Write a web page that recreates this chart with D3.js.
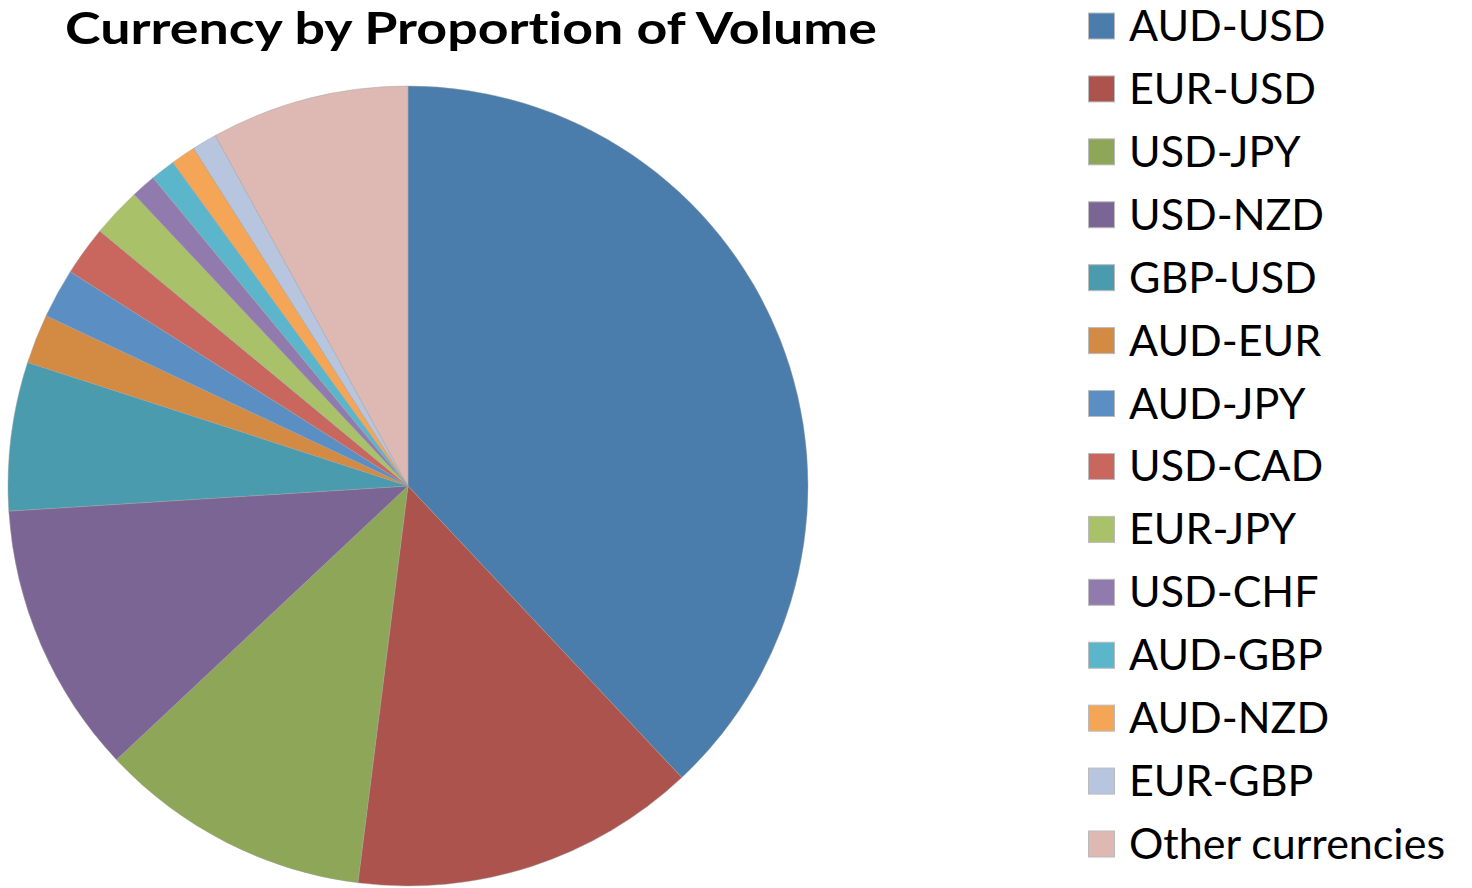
<html lang="en">
<head>
    <meta charset="UTF-8"/>
    <title>Currency by Proportion of Volume</title>
    <script src="https://d3js.org/d3.v7.min.js"></script>
    <style>
        body { margin: 0; background: #fff; }
        text { font-family: Lato, "Open Sans", sans-serif; font-variant-ligatures: none; }
    </style>
</head>
<body>
    <script>
        // pairs in the order excel draws them (clockwise from 12 o'clock)
        var pairs = ["AUD-USD","EUR-USD","USD-JPY","USD-NZD","GBP-USD","AUD-EUR","AUD-JPY",
                     "USD-CAD","EUR-JPY","USD-CHF","AUD-GBP","AUD-NZD","EUR-GBP","Other currencies"];
        var share = [38,14,11,11,6,2,2,2,2,1,1,1,1,8];
        var colours = ["#4a7dab","#ab534c","#8ea657","#7b6595","#4a9bae","#d38a43","#5b8fc4",
                       "#c9665e","#a9c269","#917bae","#5bb6cc","#f5a556","#b7c5df","#deb8b3"];

        var w = 1472;
        var h = 888;
        var cx = 408, cy = 486, r = 400;

        var svg = d3.select("body")
                    .append("svg")
                    .attr("width", w)
                    .attr("height", h);

        var data = pairs.map(function(p, i){ return {name: p, value: share[i]}; });

        var pie = d3.pie()
                    .sort(null)
                    .value(function(d){ return d.value; });

        var arc = d3.arc()
                    .innerRadius(0)
                    .outerRadius(r);

        var colour = d3.scaleOrdinal()
                        .domain(pairs)
                        .range(colours);

        svg.append("g")
            .attr("transform", "translate(" + cx + "," + cy + ")")
            .selectAll("path")
            .data(pie(data))
            .enter()
            .append("path")
            .attr("d", arc)
            .attr("fill", function(d){ return colour(d.data.name); })
            .attr("stroke", "rgba(160,160,160,0.45)")
            .attr("stroke-width", 1);

        // title
        svg.append("text")
            .attr("x", 65)
            .attr("y", 44)
            .attr("font-size", 44)
            .attr("font-weight", "bold")
            .attr("textLength", 812)
            .attr("lengthAdjust", "spacingAndGlyphs")
            .text("Currency by Proportion of Volume");

        // legend
        var legY = d3.scaleLinear()
                        .domain([0, pairs.length - 1])
                        .range([26, 844]);

        var leg = svg.selectAll(".leg")
            .data(pairs)
            .enter()
            .append("g")
            .attr("class", "leg")
            .attr("transform", function(d, i){ return "translate(1088," + legY(i) + ")"; });

        leg.append("rect")
            .attr("x", 0.5)
            .attr("y", -13)
            .attr("width", 26)
            .attr("height", 26)
            .attr("fill", function(d){ return colour(d); })
            .attr("stroke", "#bbb")
            .attr("stroke-width", 1);

        leg.append("text")
            .attr("x", 41)
            .attr("y", 15)
            .attr("font-size", 43)
            .text(function(d){ return d; });
    </script>
</body>
</html>
